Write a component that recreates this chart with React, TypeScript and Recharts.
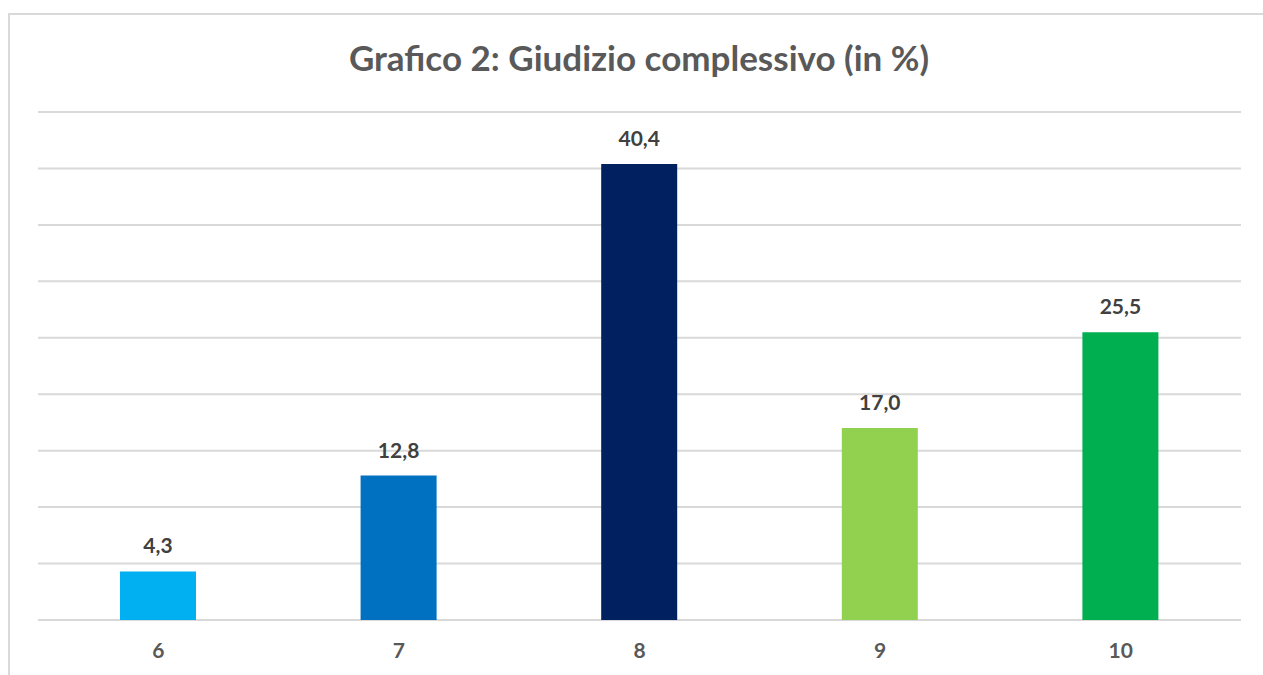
import React from 'react';
import { BarChart, Bar, XAxis, YAxis, CartesianGrid, Cell, LabelList } from 'recharts';

const categories = ['6', '7', '8', '9', '10'];
const values = [4.3, 12.8, 40.4, 17.0, 25.5];
const barColors = ['#00B0F0', '#0070C0', '#002060', '#92D050', '#00B050'];
const yTicks = [0, 5, 10, 15, 20, 25, 30, 35, 40, 45];

const data = categories.map((c, i) => ({ name: c, value: values[i] }));

const FONT = 'Lato, "Open Sans", sans-serif';

export default function App() {
  return (
    <div
      style={{
        position: 'absolute',
        left: 0,
        top: 0,
        width: 1263,
        height: 675,
        overflow: 'hidden',
        background: '#fff',
        fontFamily: FONT,
      }}
    >
      <div
        style={{
          position: 'absolute',
          left: 8,
          top: 13,
          width: 1400,
          height: 800,
          border: '2px solid #d9d9d9',
        }}
      />
      <div
        style={{
          position: 'absolute',
          left: 0,
          top: 36,
          width: 1278,
          textAlign: 'center',
          fontSize: 35,
          fontWeight: 700,
          color: '#595959',
        }}
      >
        Grafico 2: Giudizio complessivo (in %)
      </div>
      <div style={{ position: 'absolute', left: 0, top: 0 }}>
        <BarChart
          width={1263}
          height={675}
          data={data}
          margin={{ top: 112, right: 22, left: 38, bottom: 25 }}
        >
          <CartesianGrid vertical={false} stroke="#d9d9d9" strokeWidth={2} />
          <YAxis hide domain={[0, 45]} ticks={yTicks} />
          <XAxis
            dataKey="name"
            axisLine={false}
            tickLine={false}
            tickMargin={17}
            tick={{ fill: '#595959', fontSize: 21, fontWeight: 700, fontFamily: FONT }}
          />
          <Bar dataKey="value" barSize={76} isAnimationActive={false}>
            {data.map((d, i) => (
              <Cell key={d.name} fill={barColors[i]} />
            ))}
            <LabelList
              dataKey="value"
              position="top"
              offset={18}
              formatter={(v: any) => Number(v).toFixed(1).replace('.', ',')}
              style={{ fill: '#404040', fontSize: 21, fontWeight: 700, fontFamily: FONT }}
            />
          </Bar>
        </BarChart>
      </div>
    </div>
  );
}
